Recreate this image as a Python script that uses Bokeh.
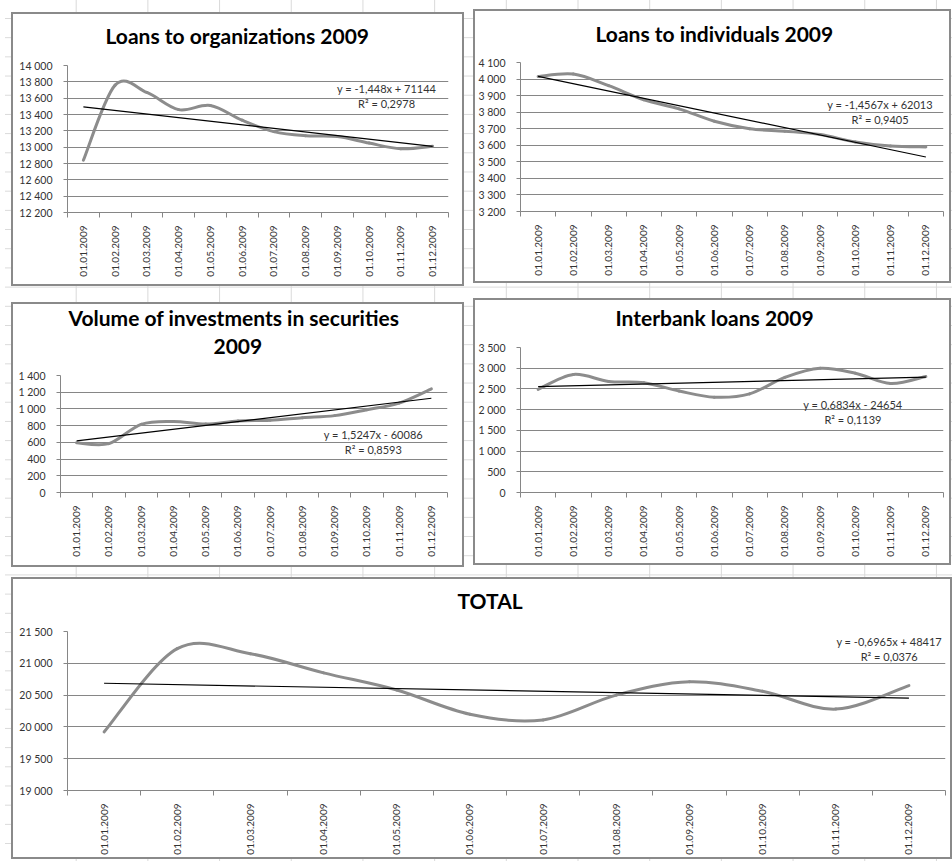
import numpy as np
from math import pi
from bokeh.plotting import figure
from bokeh.models import Range1d, FixedTicker, Label, Title, Div
from bokeh.embed import file_html
from bokeh.resources import INLINE

# ---------------- data ----------------
months = ["01.01.2009", "01.02.2009", "01.03.2009", "01.04.2009", "01.05.2009", "01.06.2009",
          "01.07.2009", "01.08.2009", "01.09.2009", "01.10.2009", "01.11.2009", "01.12.2009"]
excel_dates = [39814, 39845, 39873, 39904, 39934, 39965, 39995, 40026, 40057, 40087, 40118, 40148]

loans_org = [12840, 13760, 13670, 13460, 13510, 13330, 13190, 13140, 13130, 13050, 12980, 13010]
loans_ind = [4015, 4030, 3960, 3875, 3820, 3745, 3700, 3685, 3665, 3620, 3595, 3590]
securities = [595, 585, 815, 850, 820, 855, 865, 895, 920, 990, 1070, 1240]
interbank = [2490, 2850, 2680, 2650, 2450, 2300, 2380, 2780, 3000, 2880, 2630, 2800]
total = [19920, 21230, 21150, 20850, 20580, 20200, 20110, 20500, 20710, 20560, 20280, 20650]

ticks_org = [12200, 12400, 12600, 12800, 13000, 13200, 13400, 13600, 13800, 14000]
ticks_ind = [3200, 3300, 3400, 3500, 3600, 3700, 3800, 3900, 4000, 4100]
ticks_sec = [0, 200, 400, 600, 800, 1000, 1200, 1400]
ticks_ibl = [0, 500, 1000, 1500, 2000, 2500, 3000, 3500]
ticks_tot = [19000, 19500, 20000, 20500, 21000, 21500]

trend_org = (-1.448, 71144)
trend_ind = (-1.4567, 62013)
trend_sec = (1.5247, -60086)
trend_ibl = (0.6834, -24654)
trend_tot = (-0.6965, 48417)

title_org = ["Loans to organizations 2009"]
title_ind = ["Loans to individuals 2009"]
title_sec = ["Volume of investments in securities", "2009"]
title_ibl = ["Interbank loans 2009"]
title_tot = ["TOTAL"]

eq_org = ["y = -1,448x + 71144", "R² = 0,2978"]
eq_ind = ["y = -1,4567x + 62013", "R² = 0,9405"]
eq_sec = ["y = 1,5247x - 60086", "R² = 0,8593"]
eq_ibl = ["y = 0,6834x - 24654", "R² = 0,1139"]
eq_tot = ["y = -0,6965x + 48417", "R² = 0,0376"]

FONT = "Lato"
GRID = "#868686"
SERIES = "#8c8c8c"
TEXT = "#333333"


def fmt(v):
    return f"{v:,}".replace(",", " ")


def smooth_line(p, ys):
    xs = list(range(1, len(ys) + 1))
    n = len(xs)
    x0, y0, x1, y1, cx0, cy0, cx1, cy1 = [], [], [], [], [], [], [], []
    for i in range(n - 1):
        a = i - 1 if i > 0 else i
        d = i + 2 if i + 2 < n else i + 1
        x0.append(xs[i]); y0.append(ys[i])
        x1.append(xs[i + 1]); y1.append(ys[i + 1])
        cx0.append(xs[i] + (xs[i + 1] - xs[a]) / 6.0)
        cy0.append(ys[i] + (ys[i + 1] - ys[a]) / 6.0)
        cx1.append(xs[i + 1] - (xs[d] - xs[i]) / 6.0)
        cy1.append(ys[i + 1] - (ys[d] - ys[i]) / 6.0)
    p.bezier(x0=x0, y0=y0, x1=x1, y1=y1, cx0=cx0, cy0=cy0, cx1=cx1, cy1=cy1,
             line_color=SERIES, line_width=3, line_cap="round")


def style_title(t, offset, standoff):
    t.align = "left"
    t.offset = offset
    t.standoff = standoff
    t.text_font = FONT
    t.text_font_style = "bold"
    t.text_font_size = "21px"
    t.text_color = "black"


def chart_box(pos, size):
    left, top = pos
    w, h = size
    return Div(text="", width=w, height=h, margin=0,
               styles={"position": "absolute", "left": f"{left}px", "top": f"{top}px",
                       "border": "2px solid #8a8a8a", "box-sizing": "border-box",
                       "background-color": "white"})


def make_chart(titles, values, yticks, trend, eq, pos, size, borders, toffs, tstand, gap,
               eqx, eqy, extra=0):
    left, top = pos
    w, h = size
    bl, br, bt, bb = borders
    p = figure(width=w, height=h + extra, x_range=Range1d(0.5, 12.5),
               y_range=Range1d(yticks[0], yticks[-1]),
               output_backend="svg", toolbar_location=None,
               min_border_left=bl, min_border_right=br, min_border_top=bt + extra,
               min_border_bottom=bb,
               background_fill_color="white", border_fill_alpha=0,
               styles={"position": "absolute", "left": f"{left}px", "top": f"{top - extra}px"})
    p.outline_line_color = None

    # spacer nearest to the frame, then title lines (closest first), first line outermost
    p.add_layout(Title(text=" ", text_font_size="1px", standoff=gap), "above")
    for k in range(len(titles) - 1, 0, -1):
        t = Title(text=titles[k])
        style_title(t, toffs[k], tstand[k])
        p.add_layout(t, "above")
    p.title.text = titles[0]
    style_title(p.title, toffs[0], tstand[0])

    # x axis
    xa = p.xaxis[0]
    xa.ticker = FixedTicker(ticks=list(range(1, 13)), minor_ticks=[i + 0.5 for i in range(13)])
    xa.major_label_overrides = {i + 1: m for i, m in enumerate(months)}
    xa.major_label_orientation = pi / 2
    xa.major_tick_line_color = None
    xa.major_tick_out = 0
    xa.minor_tick_line_color = GRID
    xa.minor_tick_out = 5
    xa.minor_tick_in = 0
    xa.axis_line_color = GRID
    xa.major_label_standoff = 8
    xa.major_label_text_font = FONT
    xa.major_label_text_font_size = "10px"
    xa.major_label_text_color = TEXT

    ya = p.yaxis[0]
    ya.ticker = FixedTicker(ticks=yticks)
    ya.major_label_overrides = {v: fmt(v) for v in yticks}
    ya.major_tick_line_color = GRID
    ya.major_tick_out = 4
    ya.major_tick_in = 0
    ya.minor_tick_line_color = None
    ya.axis_line_color = GRID
    ya.major_label_standoff = 11
    ya.major_label_text_font = FONT
    ya.major_label_text_font_size = "10.5px"
    ya.major_label_text_color = TEXT

    p.xgrid.visible = False
    p.ygrid.grid_line_color = GRID
    p.ygrid.grid_line_width = 1

    smooth_line(p, values)
    slope, icpt = trend
    p.line(x=[1, 12], y=[slope * excel_dates[0] + icpt, slope * excel_dates[-1] + icpt],
           line_color="black", line_width=1.2)

    for k, txt in enumerate(eq):
        p.add_layout(Label(x=eqx, y=eqy[k], text=txt, text_align="center", text_baseline="middle",
                           text_font=FONT, text_font_size="11px", text_color=TEXT))
    return p


pos1, size1 = (11, 12), (453, 274)
pos2, size2 = (473, 9), (478, 274)
pos3, size3 = (11, 302), (453, 265)
pos4, size4 = (473, 298), (478, 267)
pos5, size5 = (11, 577), (941, 282)

p1 = make_chart(title_org, loans_org, ticks_org, trend_org, eq_org, pos1, size1,
                (56, 16, 53, 74), [38], [0], 15, 10.55, [13718, 13535])
p2 = make_chart(title_ind, loans_ind, ticks_ind, trend_ind, eq_ind, pos2, size2,
                (47, 8, 53, 72), [75], [0], 14, 10.7, [3846, 3756])
p3 = make_chart(title_sec, securities, ticks_sec, trend_sec, eq_sec, pos3, size3,
                (49, 17, 73, 75), [8, 153], [13, 0], 19, 10.2, [694, 514], extra=10)
p4 = make_chart(title_ibl, interbank, ticks_ibl, trend_ibl, eq_ibl, pos4, size4,
                (47, 8, 49, 73), [95], [0], 15, 9.93, [2124, 1762])
p5 = make_chart(title_tot, total, ticks_tot, trend_tot, eq_tot, pos5, size5,
                (56, 7, 54, 69), [390], [0], 16, 11.73, [21343, 21107])

sheet = Div(text="", width=947, height=861, margin=0,
            styles={"position": "absolute", "left": "5px", "top": "0px",
                    "background-image": "linear-gradient(to right, #d9d9d9 1px, transparent 1px),"
                                        "linear-gradient(to bottom, #d9d9d9 1px, transparent 1px)",
                    "background-size": "71.7px 19.2px",
                    "background-position": "-1px 18px"})

roots = [sheet,
         chart_box(pos1, size1), chart_box(pos2, size2), chart_box(pos3, size3),
         chart_box(pos4, size4), chart_box(pos5, size5),
         p1, p2, p3, p4, p5]

with open("out.html", "w") as f:
    f.write(file_html(roots, INLINE))
